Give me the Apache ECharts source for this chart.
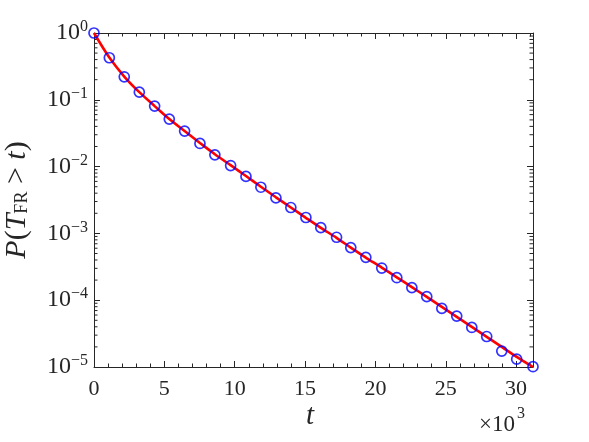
<!DOCTYPE html>
<html><head><meta charset="utf-8">
<script src="https://cdn.jsdelivr.net/npm/echarts@6/dist/echarts.min.js"></script>
<style>html,body{margin:0;padding:0;background:#fff}#c{width:589px;height:442px}</style>
</head><body><div id="c"></div>
<script>
// t in units of 10^3
const tValues = [0, 1.09, 2.15, 3.22, 4.31, 5.35, 6.44, 7.53, 8.59, 9.71, 10.80, 11.86, 12.93, 13.99, 15.06, 16.12, 17.24, 18.25, 19.32, 20.45, 21.52, 22.59, 23.65, 24.72, 25.78, 26.85, 27.91, 28.98, 30.04, 31.2];
const simP = [1.0, 0.426, 0.221, 0.130, 0.0805, 0.0514, 0.0340, 0.0222, 0.0150, 0.01037, 0.00713, 0.00491, 0.00340, 0.00244, 0.00173, 0.00122, 0.000875, 0.000613, 0.000438, 0.000303, 0.000217, 0.000154, 0.000113, 0.0000753, 0.0000578, 0.0000391, 0.0000286, 0.0000173, 0.0000131, 0.0000101];
const theoryP = [1.0, 0.429, 0.223, 0.130, 0.0805, 0.0514, 0.0340, 0.0226, 0.0153, 0.0105, 0.00722, 0.00499, 0.00347, 0.00244, 0.00171, 0.00121, 0.000859, 0.000612, 0.000435, 0.000308, 0.000220, 0.000157, 0.000112, 0.0000795, 0.0000564, 0.0000399, 0.0000282, 0.0000200, 0.0000142, 0.0000100];
const xTicks = [0, 5, 10, 15, 20, 25, 30];
const yMin = 1e-5, yMax = 1;
const xMin = 0, xMax = 31.2;

const FONT = 'Liberation Serif';
const AX = '#262626';
const minorY = [];
for (let k = -5; k < 0; k++) for (let m = 2; m <= 9; m++) minorY.push([xMin, m * Math.pow(10, k)]);

const chart = echarts.init(document.getElementById('c'), null, {renderer: 'canvas'});
const sup = {fontFamily: FONT, fontSize: 16, color: '#262626', padding: [0, 0, 12, 0]};
chart.setOption({
  animation: false,
  backgroundColor: '#fff',
  grid: {left: 94, right: 56, top: 33, bottom: 75, containLabel: false, outerBoundsMode: 'none'},
  xAxis: [{
    type: 'value', min: xMin, max: xMax, interval: 5, position: 'bottom',
    axisLine: {show: true, onZero: false, lineStyle: {color: AX, width: 1}},
    axisTick: {show: true, inside: true, length: 6, lineStyle: {color: AX}},
    minorTick: {show: true, splitNumber: 5, length: 3.5, lineStyle: {color: AX}},
    splitLine: {show: false},
    axisLabel: {margin: 11, fontFamily: FONT, fontSize: 22, color: '#262626',
      formatter: v => xTicks.indexOf(v) >= 0 ? String(v) : ''}
  }, {
    type: 'value', min: xMin, max: xMax, interval: 5, position: 'top',
    axisLine: {show: true, onZero: false, lineStyle: {color: AX, width: 1}},
    axisTick: {show: true, inside: true, length: 6, lineStyle: {color: AX}},
    minorTick: {show: true, splitNumber: 5, length: 3.5, lineStyle: {color: AX}},
    splitLine: {show: false}, axisLabel: {show: false}
  }],
  yAxis: [{
    type: 'log', logBase: 10, min: yMin, max: yMax, interval: 1, position: 'left',
    axisLine: {show: true, onZero: false, lineStyle: {color: AX, width: 1}},
    axisTick: {show: true, inside: true, length: 6, lineStyle: {color: AX}},
    splitLine: {show: false},
    axisLabel: {margin: 6, formatter: v => {
      const e = Math.round(Math.log10(v));
      return '{b|10}{s|' + (e < 0 ? '\u2212' + (-e) : e) + '}';
    }, rich: {b: {fontFamily: FONT, fontSize: 24, color: '#262626'}, s: sup}},
    name: '{i|P}{n|(}{i|T}{sub|FR}{n| > }{i|t}{n|)}',
    nameLocation: 'middle', nameGap: 62, nameRotate: 90,
    nameTextStyle: {rich: {
      i: {fontFamily: FONT, fontStyle: 'italic', fontSize: 30, color: '#262626'},
      n: {fontFamily: FONT, fontSize: 30, color: '#262626'},
      sub: {fontFamily: FONT, fontSize: 18, color: '#262626', padding: [10, 0, 0, 0]}
    }}
  }, {
    type: 'log', logBase: 10, min: yMin, max: yMax, interval: 1, position: 'right',
    axisLine: {show: true, onZero: false, lineStyle: {color: AX, width: 1}},
    axisTick: {show: true, inside: true, length: 6, lineStyle: {color: AX}},
    splitLine: {show: false}, axisLabel: {show: false}
  }],
  graphic: [
    {type: 'text', left: 306, top: 402, style: {text: 't', fontStyle: 'italic', fontSize: 29, fontFamily: FONT, fill: '#262626'}},
    {type: 'text', left: 479, top: 413, style: {text: '\u00d710', fontSize: 23, fontFamily: FONT, fill: '#262626'}},
    {type: 'text', left: 517, top: 406, style: {text: '3', fontSize: 16, fontFamily: FONT, fill: '#262626'}}
  ],
  series: [{
    type: 'custom', xAxisIndex: 0, yAxisIndex: 0, silent: true, clip: false,
    data: minorY,
    renderItem: (params, api) => {
      const cs = params.coordSys;
      const y = api.coord([api.value(0), api.value(1)])[1];
      const st = {stroke: AX, lineWidth: 1};
      return {type: 'group', children: [
        {type: 'line', shape: {x1: cs.x, y1: y, x2: cs.x + 3.5, y2: y}, style: st},
        {type: 'line', shape: {x1: cs.x + cs.width, y1: y, x2: cs.x + cs.width - 3.5, y2: y}, style: st}
      ]};
    }
  }, {
    type: 'line', xAxisIndex: 0, yAxisIndex: 0,
    data: tValues.map((t, i) => [t, theoryP[i]]),
    showSymbol: false, smooth: 0.3, lineStyle: {color: '#ff0000', width: 2.6}, z: 3
  }, {
    type: 'scatter', xAxisIndex: 0, yAxisIndex: 0,
    data: tValues.map((t, i) => [t, simP[i]]),
    symbol: 'circle', symbolSize: 10,
    itemStyle: {color: 'rgba(0,0,0,0)', borderColor: '#0000ff', borderWidth: 1.7}, z: 4
  }]
});
</script>
</body></html>
